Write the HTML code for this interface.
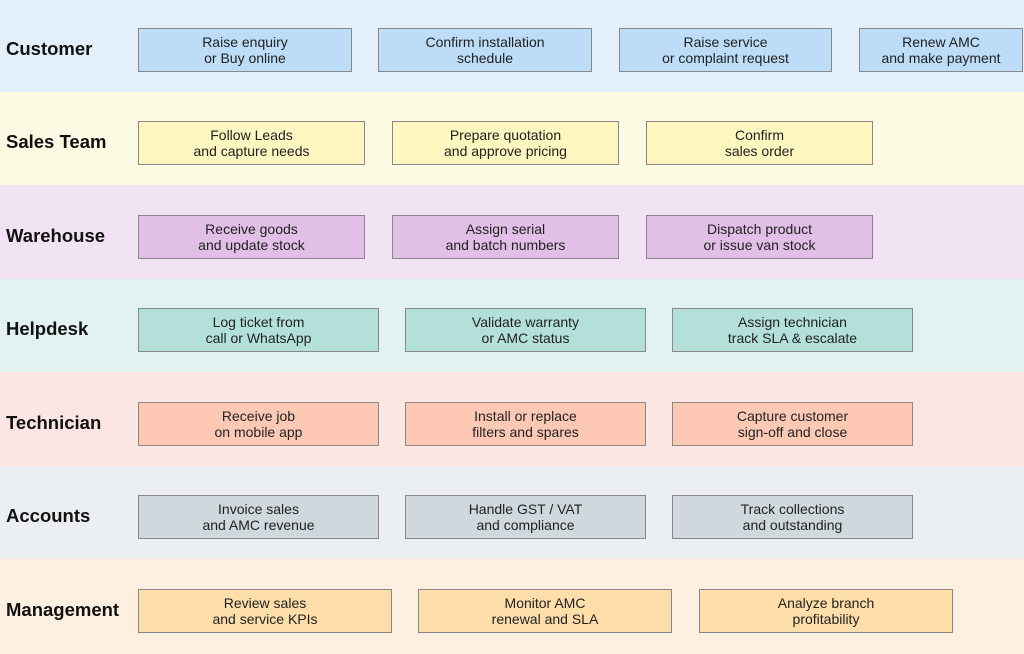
<!DOCTYPE html><html><head><style>
body{margin:0;width:1024px;height:654px;position:relative;font-family:"Liberation Sans",sans-serif;overflow:hidden;background:#fff}
.l{position:absolute;left:0;width:1024px;height:94px}
.t{position:absolute;left:6px;font-weight:bold;font-size:18.5px;color:#111;line-height:20px}
.b{position:absolute;height:42px;border:1px solid #888;box-sizing:content-box;font-size:14px;color:#222;text-align:center;line-height:16px;display:flex;align-items:center;justify-content:center}
</style></head><body>
<div class="l" style="top:0;background:#e3f0fc"></div>
<div class="l" style="top:92px;background:#fefbe4"></div>
<div class="l" style="top:185px;background:#f2e3f4"></div>
<div class="l" style="top:279px;background:#e1f2f0"></div>
<div class="l" style="top:372px;background:#fbe6e3"></div>
<div class="l" style="top:466px;background:#eceff1"></div>
<div class="l" style="top:559px;height:95px;background:#fdf0e0"></div>

<div class="t" style="top:39px">Customer</div>
<div class="t" style="top:132px">Sales Team</div>
<div class="t" style="top:226px">Warehouse</div>
<div class="t" style="top:319px">Helpdesk</div>
<div class="t" style="top:413px">Technician</div>
<div class="t" style="top:506px">Accounts</div>
<div class="t" style="top:600px">Management</div>

<div class="b" style="top:28px;left:138px;width:212px;background:#bcdcf7">Raise enquiry<br>or Buy online</div>
<div class="b" style="top:28px;left:378px;width:212px;background:#bcdcf7">Confirm installation<br>schedule</div>
<div class="b" style="top:28px;left:619px;width:211px;background:#bcdcf7">Raise service<br>or complaint request</div>
<div class="b" style="top:28px;left:859px;width:162px;background:#bcdcf7">Renew AMC<br>and make payment</div>

<div class="b" style="top:121px;left:138px;width:225px;background:#fff6c0">Follow Leads<br>and capture needs</div>
<div class="b" style="top:121px;left:392px;width:225px;background:#fff6c0">Prepare quotation<br>and approve pricing</div>
<div class="b" style="top:121px;left:646px;width:225px;background:#fff6c0">Confirm<br>sales order</div>

<div class="b" style="top:215px;left:138px;width:225px;background:#e1bfe6">Receive goods<br>and update stock</div>
<div class="b" style="top:215px;left:392px;width:225px;background:#e1bfe6">Assign serial<br>and batch numbers</div>
<div class="b" style="top:215px;left:646px;width:225px;background:#e1bfe6">Dispatch product<br>or issue van stock</div>

<div class="b" style="top:308px;left:138px;width:239px;background:#b4e0da">Log ticket from<br>call or WhatsApp</div>
<div class="b" style="top:308px;left:405px;width:239px;background:#b4e0da">Validate warranty<br>or AMC status</div>
<div class="b" style="top:308px;left:672px;width:239px;background:#b4e0da">Assign technician<br>track SLA &amp; escalate</div>

<div class="b" style="top:402px;left:138px;width:239px;background:#fdc9b5">Receive job<br>on mobile app</div>
<div class="b" style="top:402px;left:405px;width:239px;background:#fdc9b5">Install or replace<br>filters and spares</div>
<div class="b" style="top:402px;left:672px;width:239px;background:#fdc9b5">Capture customer<br>sign-off and close</div>

<div class="b" style="top:495px;left:138px;width:239px;background:#cfd8dc">Invoice sales<br>and AMC revenue</div>
<div class="b" style="top:495px;left:405px;width:239px;background:#cfd8dc">Handle GST / VAT<br>and compliance</div>
<div class="b" style="top:495px;left:672px;width:239px;background:#cfd8dc">Track collections<br>and outstanding</div>

<div class="b" style="top:589px;left:138px;width:252px;background:#ffdeaa">Review sales<br>and service KPIs</div>
<div class="b" style="top:589px;left:418px;width:252px;background:#ffdeaa">Monitor AMC<br>renewal and SLA</div>
<div class="b" style="top:589px;left:699px;width:252px;background:#ffdeaa">Analyze branch<br>profitability</div>
</body></html>
